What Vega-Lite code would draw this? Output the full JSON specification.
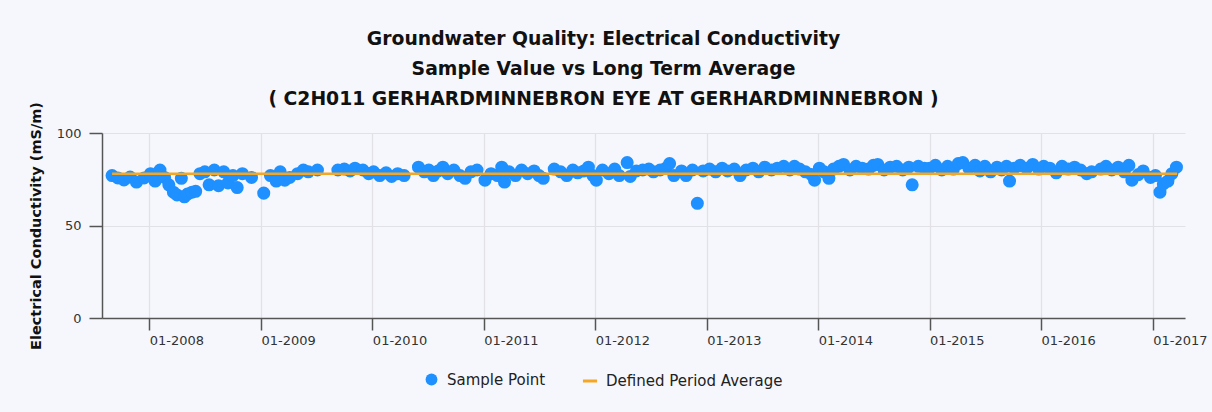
{
  "$schema": "https://vega.github.io/schema/vega-lite/v6.json",
  "width": 1083,
  "height": 185,
  "autosize": {"type": "none"},
  "padding": {"left": 102, "top": 133, "right": 27, "bottom": 94},
  "background": "#F6F7FC",
  "title": {
    "text": ["Groundwater Quality: Electrical Conductivity", "Sample Value vs Long Term Average", "( C2H011 GERHARDMINNEBRON EYE AT GERHARDMINNEBRON )"],
    "font": "DejaVu Sans",
    "fontSize": 18.8,
    "fontWeight": "bold",
    "color": "#111111",
    "lineHeight": 30,
    "anchor": "middle",
    "frame": "group",
    "dx": -40,
    "dy": 15,
    "offset": 8
  },
  "datasets": {
    "samples": [
      {"date": "2007-09-01", "value": 77, "series": "Sample Point"},
      {"date": "2007-09-20", "value": 75.7, "series": "Sample Point"},
      {"date": "2007-10-10", "value": 74.6, "series": "Sample Point"},
      {"date": "2007-10-30", "value": 76.2, "series": "Sample Point"},
      {"date": "2007-11-20", "value": 73.5, "series": "Sample Point"},
      {"date": "2007-12-15", "value": 75.7, "series": "Sample Point"},
      {"date": "2008-01-05", "value": 78, "series": "Sample Point"},
      {"date": "2008-01-20", "value": 74, "series": "Sample Point"},
      {"date": "2008-02-05", "value": 80, "series": "Sample Point"},
      {"date": "2008-02-20", "value": 76, "series": "Sample Point"},
      {"date": "2008-03-05", "value": 72, "series": "Sample Point"},
      {"date": "2008-03-20", "value": 68, "series": "Sample Point"},
      {"date": "2008-04-01", "value": 66.5, "series": "Sample Point"},
      {"date": "2008-04-15", "value": 75.5, "series": "Sample Point"},
      {"date": "2008-04-25", "value": 65.5, "series": "Sample Point"},
      {"date": "2008-05-05", "value": 67, "series": "Sample Point"},
      {"date": "2008-05-20", "value": 68, "series": "Sample Point"},
      {"date": "2008-06-01", "value": 68.5, "series": "Sample Point"},
      {"date": "2008-06-15", "value": 78, "series": "Sample Point"},
      {"date": "2008-07-01", "value": 79, "series": "Sample Point"},
      {"date": "2008-07-15", "value": 72, "series": "Sample Point"},
      {"date": "2008-08-01", "value": 80, "series": "Sample Point"},
      {"date": "2008-08-15", "value": 71.5, "series": "Sample Point"},
      {"date": "2008-09-01", "value": 79, "series": "Sample Point"},
      {"date": "2008-09-15", "value": 73, "series": "Sample Point"},
      {"date": "2008-10-01", "value": 77, "series": "Sample Point"},
      {"date": "2008-10-15", "value": 70.5, "series": "Sample Point"},
      {"date": "2008-11-01", "value": 78, "series": "Sample Point"},
      {"date": "2008-12-01", "value": 76, "series": "Sample Point"},
      {"date": "2009-01-10", "value": 67.5, "series": "Sample Point"},
      {"date": "2009-02-01", "value": 77, "series": "Sample Point"},
      {"date": "2009-02-20", "value": 74, "series": "Sample Point"},
      {"date": "2009-03-05", "value": 79, "series": "Sample Point"},
      {"date": "2009-03-20", "value": 74.5, "series": "Sample Point"},
      {"date": "2009-04-05", "value": 76, "series": "Sample Point"},
      {"date": "2009-05-01", "value": 78, "series": "Sample Point"},
      {"date": "2009-05-20", "value": 80, "series": "Sample Point"},
      {"date": "2009-06-05", "value": 79, "series": "Sample Point"},
      {"date": "2009-07-05", "value": 80, "series": "Sample Point"},
      {"date": "2009-09-10", "value": 80, "series": "Sample Point"},
      {"date": "2009-10-01", "value": 80.5, "series": "Sample Point"},
      {"date": "2009-10-20", "value": 79.5, "series": "Sample Point"},
      {"date": "2009-11-05", "value": 81, "series": "Sample Point"},
      {"date": "2009-12-01", "value": 80, "series": "Sample Point"},
      {"date": "2009-12-20", "value": 78, "series": "Sample Point"},
      {"date": "2010-01-05", "value": 79, "series": "Sample Point"},
      {"date": "2010-01-25", "value": 77, "series": "Sample Point"},
      {"date": "2010-02-15", "value": 78.5, "series": "Sample Point"},
      {"date": "2010-03-05", "value": 76.5, "series": "Sample Point"},
      {"date": "2010-03-25", "value": 78, "series": "Sample Point"},
      {"date": "2010-04-15", "value": 77, "series": "Sample Point"},
      {"date": "2010-06-01", "value": 81.5, "series": "Sample Point"},
      {"date": "2010-06-20", "value": 79, "series": "Sample Point"},
      {"date": "2010-07-05", "value": 80, "series": "Sample Point"},
      {"date": "2010-07-20", "value": 77, "series": "Sample Point"},
      {"date": "2010-08-05", "value": 79.5, "series": "Sample Point"},
      {"date": "2010-08-20", "value": 81.5, "series": "Sample Point"},
      {"date": "2010-09-05", "value": 78, "series": "Sample Point"},
      {"date": "2010-09-25", "value": 80, "series": "Sample Point"},
      {"date": "2010-10-15", "value": 77, "series": "Sample Point"},
      {"date": "2010-11-01", "value": 75.5, "series": "Sample Point"},
      {"date": "2010-11-20", "value": 79, "series": "Sample Point"},
      {"date": "2010-12-10", "value": 80, "series": "Sample Point"},
      {"date": "2011-01-05", "value": 74.5, "series": "Sample Point"},
      {"date": "2011-01-25", "value": 78, "series": "Sample Point"},
      {"date": "2011-02-15", "value": 77, "series": "Sample Point"},
      {"date": "2011-03-01", "value": 81.5, "series": "Sample Point"},
      {"date": "2011-03-10", "value": 73.5, "series": "Sample Point"},
      {"date": "2011-03-25", "value": 79, "series": "Sample Point"},
      {"date": "2011-04-15", "value": 77, "series": "Sample Point"},
      {"date": "2011-05-05", "value": 80, "series": "Sample Point"},
      {"date": "2011-05-25", "value": 78, "series": "Sample Point"},
      {"date": "2011-06-15", "value": 79.5, "series": "Sample Point"},
      {"date": "2011-07-01", "value": 77, "series": "Sample Point"},
      {"date": "2011-07-15", "value": 75.5, "series": "Sample Point"},
      {"date": "2011-08-20", "value": 80.5, "series": "Sample Point"},
      {"date": "2011-09-10", "value": 79, "series": "Sample Point"},
      {"date": "2011-09-30", "value": 77, "series": "Sample Point"},
      {"date": "2011-10-20", "value": 80, "series": "Sample Point"},
      {"date": "2011-11-05", "value": 78.5, "series": "Sample Point"},
      {"date": "2011-11-25", "value": 79.5, "series": "Sample Point"},
      {"date": "2011-12-10", "value": 81.5, "series": "Sample Point"},
      {"date": "2011-12-25", "value": 77, "series": "Sample Point"},
      {"date": "2012-01-05", "value": 74.5, "series": "Sample Point"},
      {"date": "2012-01-25", "value": 80, "series": "Sample Point"},
      {"date": "2012-02-15", "value": 78, "series": "Sample Point"},
      {"date": "2012-03-05", "value": 80.5, "series": "Sample Point"},
      {"date": "2012-03-20", "value": 77, "series": "Sample Point"},
      {"date": "2012-04-15", "value": 84, "series": "Sample Point"},
      {"date": "2012-04-25", "value": 76.5, "series": "Sample Point"},
      {"date": "2012-05-15", "value": 79.5, "series": "Sample Point"},
      {"date": "2012-06-05", "value": 80, "series": "Sample Point"},
      {"date": "2012-06-25", "value": 80.5, "series": "Sample Point"},
      {"date": "2012-07-10", "value": 79, "series": "Sample Point"},
      {"date": "2012-08-01", "value": 80, "series": "Sample Point"},
      {"date": "2012-08-20", "value": 81, "series": "Sample Point"},
      {"date": "2012-09-01", "value": 83.5, "series": "Sample Point"},
      {"date": "2012-09-15", "value": 77, "series": "Sample Point"},
      {"date": "2012-10-10", "value": 79.5, "series": "Sample Point"},
      {"date": "2012-10-25", "value": 77, "series": "Sample Point"},
      {"date": "2012-11-15", "value": 80, "series": "Sample Point"},
      {"date": "2012-12-01", "value": 62, "series": "Sample Point"},
      {"date": "2012-12-20", "value": 79.5, "series": "Sample Point"},
      {"date": "2013-01-10", "value": 80.5, "series": "Sample Point"},
      {"date": "2013-01-30", "value": 79, "series": "Sample Point"},
      {"date": "2013-02-20", "value": 81, "series": "Sample Point"},
      {"date": "2013-03-10", "value": 79.5, "series": "Sample Point"},
      {"date": "2013-04-01", "value": 80.5, "series": "Sample Point"},
      {"date": "2013-04-20", "value": 77, "series": "Sample Point"},
      {"date": "2013-05-10", "value": 80, "series": "Sample Point"},
      {"date": "2013-06-01", "value": 81, "series": "Sample Point"},
      {"date": "2013-06-20", "value": 79, "series": "Sample Point"},
      {"date": "2013-07-10", "value": 81.5, "series": "Sample Point"},
      {"date": "2013-08-01", "value": 80, "series": "Sample Point"},
      {"date": "2013-08-20", "value": 81, "series": "Sample Point"},
      {"date": "2013-09-10", "value": 82, "series": "Sample Point"},
      {"date": "2013-09-30", "value": 80, "series": "Sample Point"},
      {"date": "2013-10-15", "value": 82, "series": "Sample Point"},
      {"date": "2013-11-01", "value": 80.5, "series": "Sample Point"},
      {"date": "2013-11-20", "value": 79, "series": "Sample Point"},
      {"date": "2013-12-10", "value": 77.5, "series": "Sample Point"},
      {"date": "2013-12-20", "value": 74.5, "series": "Sample Point"},
      {"date": "2014-01-05", "value": 81, "series": "Sample Point"},
      {"date": "2014-01-20", "value": 79, "series": "Sample Point"},
      {"date": "2014-02-05", "value": 75.5, "series": "Sample Point"},
      {"date": "2014-02-20", "value": 80.5, "series": "Sample Point"},
      {"date": "2014-03-10", "value": 82, "series": "Sample Point"},
      {"date": "2014-03-25", "value": 83, "series": "Sample Point"},
      {"date": "2014-04-15", "value": 80, "series": "Sample Point"},
      {"date": "2014-05-05", "value": 82, "series": "Sample Point"},
      {"date": "2014-05-25", "value": 81, "series": "Sample Point"},
      {"date": "2014-06-15", "value": 80.5, "series": "Sample Point"},
      {"date": "2014-07-01", "value": 82.5, "series": "Sample Point"},
      {"date": "2014-07-15", "value": 83, "series": "Sample Point"},
      {"date": "2014-08-05", "value": 80, "series": "Sample Point"},
      {"date": "2014-08-25", "value": 81.5, "series": "Sample Point"},
      {"date": "2014-09-15", "value": 82, "series": "Sample Point"},
      {"date": "2014-10-05", "value": 80, "series": "Sample Point"},
      {"date": "2014-10-25", "value": 81.5, "series": "Sample Point"},
      {"date": "2014-11-05", "value": 72, "series": "Sample Point"},
      {"date": "2014-11-25", "value": 82, "series": "Sample Point"},
      {"date": "2014-12-15", "value": 81, "series": "Sample Point"},
      {"date": "2015-01-01", "value": 81, "series": "Sample Point"},
      {"date": "2015-01-20", "value": 82.5, "series": "Sample Point"},
      {"date": "2015-02-10", "value": 80, "series": "Sample Point"},
      {"date": "2015-03-01", "value": 82, "series": "Sample Point"},
      {"date": "2015-03-20", "value": 80.5, "series": "Sample Point"},
      {"date": "2015-04-05", "value": 83.5, "series": "Sample Point"},
      {"date": "2015-04-20", "value": 84, "series": "Sample Point"},
      {"date": "2015-05-10", "value": 81, "series": "Sample Point"},
      {"date": "2015-05-30", "value": 82.5, "series": "Sample Point"},
      {"date": "2015-06-15", "value": 79.5, "series": "Sample Point"},
      {"date": "2015-07-01", "value": 82, "series": "Sample Point"},
      {"date": "2015-07-20", "value": 79, "series": "Sample Point"},
      {"date": "2015-08-10", "value": 81.5, "series": "Sample Point"},
      {"date": "2015-08-25", "value": 80, "series": "Sample Point"},
      {"date": "2015-09-10", "value": 82, "series": "Sample Point"},
      {"date": "2015-09-20", "value": 74, "series": "Sample Point"},
      {"date": "2015-10-05", "value": 81, "series": "Sample Point"},
      {"date": "2015-10-25", "value": 82.5, "series": "Sample Point"},
      {"date": "2015-11-15", "value": 81, "series": "Sample Point"},
      {"date": "2015-12-05", "value": 83, "series": "Sample Point"},
      {"date": "2015-12-25", "value": 80.5, "series": "Sample Point"},
      {"date": "2016-01-10", "value": 82, "series": "Sample Point"},
      {"date": "2016-01-30", "value": 81, "series": "Sample Point"},
      {"date": "2016-02-20", "value": 78.5, "series": "Sample Point"},
      {"date": "2016-03-10", "value": 82, "series": "Sample Point"},
      {"date": "2016-03-30", "value": 80.5, "series": "Sample Point"},
      {"date": "2016-04-20", "value": 81.5, "series": "Sample Point"},
      {"date": "2016-05-10", "value": 80, "series": "Sample Point"},
      {"date": "2016-05-30", "value": 78, "series": "Sample Point"},
      {"date": "2016-06-15", "value": 79, "series": "Sample Point"},
      {"date": "2016-07-15", "value": 80.5, "series": "Sample Point"},
      {"date": "2016-08-01", "value": 82, "series": "Sample Point"},
      {"date": "2016-08-20", "value": 80, "series": "Sample Point"},
      {"date": "2016-09-10", "value": 81.5, "series": "Sample Point"},
      {"date": "2016-09-30", "value": 79, "series": "Sample Point"},
      {"date": "2016-10-15", "value": 82.5, "series": "Sample Point"},
      {"date": "2016-10-25", "value": 74.5, "series": "Sample Point"},
      {"date": "2016-11-15", "value": 77.5, "series": "Sample Point"},
      {"date": "2016-12-01", "value": 79.5, "series": "Sample Point"},
      {"date": "2016-12-25", "value": 76, "series": "Sample Point"},
      {"date": "2017-01-10", "value": 77, "series": "Sample Point"},
      {"date": "2017-01-25", "value": 68, "series": "Sample Point"},
      {"date": "2017-02-05", "value": 72.5, "series": "Sample Point"},
      {"date": "2017-02-20", "value": 74, "series": "Sample Point"},
      {"date": "2017-03-05", "value": 78, "series": "Sample Point"},
      {"date": "2017-03-20", "value": 81.5, "series": "Sample Point"}
    ],
    "average": [
      {"date": "2007-09-01", "value": 78, "series": "Defined Period Average"},
      {"date": "2017-03-22", "value": 78, "series": "Defined Period Average"}
    ]
  },
  "config": {
    "font": "DejaVu Sans",
    "view": {"stroke": null},
    "axis": {
      "labelFont": "DejaVu Sans",
      "labelFontSize": 13,
      "labelColor": "#333333",
      "domainColor": "#555555",
      "domainWidth": 1.5,
      "tickColor": "#555555",
      "tickWidth": 1.5,
      "gridColor": "#E2E2E6",
      "gridWidth": 1.2
    },
    "legend": {
      "labelFont": "DejaVu Sans",
      "labelFontSize": 15,
      "labelColor": "#222222",
      "labelLimit": 0
    }
  },
  "layer": [
    {
      "data": {"name": "samples"},
      "mark": {"type": "point", "filled": true, "size": 170, "opacity": 1},
      "encoding": {
        "x": {
          "field": "date",
          "type": "temporal",
          "scale": {"domain": ["2007-07-30", "2017-04-17"]},
          "axis": {
            "title": null,
            "format": "%m-%Y",
            "tickCount": {"interval": "year", "step": 1},
            "labelAlign": "left",
            "labelPadding": 4,
            "tickSize": 12,
            "grid": true,
            "labelFlush": false,
            "labelOverlap": false
          }
        },
        "y": {
          "field": "value",
          "type": "quantitative",
          "scale": {"domain": [0, 100]},
          "axis": {
            "title": "Electrical Conductivity (mS/m)",
            "titleFont": "DejaVu Sans",
            "titleFontSize": 14.5,
            "titleFontWeight": "bold",
            "titleColor": "#111111",
            "titlePadding": 13,
            "values": [0, 50, 100],
            "tickSize": 13,
            "labelPadding": 8,
            "grid": true
          }
        },
        "color": {
          "field": "series",
          "type": "nominal",
          "scale": {"domain": ["Sample Point"], "range": ["#1E90FF"]},
          "legend": {
            "title": null,
            "orient": "none",
            "legendX": 322,
            "legendY": 239,
            "symbolSize": 140,
            "labelOffset": 8
          }
        }
      }
    },
    {
      "data": {"name": "average"},
      "mark": {"type": "line", "strokeWidth": 2.5},
      "encoding": {
        "x": {"field": "date", "type": "temporal"},
        "y": {"field": "value", "type": "quantitative"},
        "stroke": {
          "field": "series",
          "type": "nominal",
          "scale": {"domain": ["Defined Period Average"], "range": ["#F5A623"]},
          "legend": {
            "title": null,
            "orient": "none",
            "legendX": 479,
            "legendY": 239,
            "symbolType": "stroke",
            "symbolSize": 200,
            "symbolStrokeWidth": 3,
            "labelOffset": 7
          }
        }
      }
    }
  ]
}
